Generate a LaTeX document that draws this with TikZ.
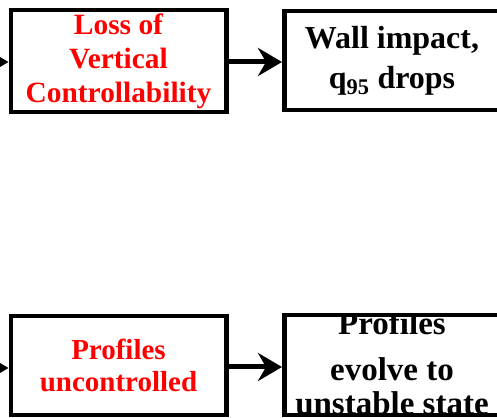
\documentclass[tikz,border=0pt]{standalone}
\usepackage{fontspec}
\setmainfont{Liberation Serif}
\usetikzlibrary{arrows.meta}
\begin{document}
\begin{tikzpicture}[x=1pt,y=1pt,
  stagebox/.style={draw=black, line width=4.5pt, rectangle, fill=white,
                   minimum width=215.5pt, inner sep=0pt},
  redtxt/.style={text=red, align=center,
                 font=\bfseries\fontsize{29.4}{34}\selectfont},
  blacktxt/.style={text=black, align=center,
                   font=\bfseries\fontsize{32}{40}\selectfont},
  linetxt/.style={text=black, anchor=base, inner sep=0pt,
                  font=\bfseries\fontsize{33}{40}\selectfont},
  flow/.style={line width=5pt, -{Stealth[length=24pt,width=28pt,inset=8pt]}}
]
\useasboundingbox (0,0) rectangle (497,417);

% upper chain
\node[stagebox, minimum height=102pt, redtxt] (lvc) at (118.5,356)
  {Loss of\\Vertical\\Controllability};
\node[stagebox, minimum height=99pt, blacktxt] (wall) at (392,356.5)
  {Wall impact,\\q\textsubscript{95} drops};

% lower chain
\node[stagebox, minimum height=99pt, redtxt,
      font=\bfseries\fontsize{29}{32}\selectfont] (unc) at (118.5,51.5)
  {Profiles\\uncontrolled};
\node[stagebox, minimum height=100pt] (evo) at (392,52) {};

% overflowing text of the last stage, kept inside its frame
\begin{scope}
  \clip ([shift={(4.5pt,4.5pt)}]evo.south west)
        rectangle ([shift={(-4.5pt,-4.5pt)}]evo.north east);
  \node[linetxt] (evo1) at (392,82) {Profiles};
  \node[linetxt] (evo2) at (392,36) {evolve to};
  \node[linetxt] (evo3) at (392,3) {unstable state};
\end{scope}

% connectors
\coordinate (inup) at (-12,355);
\coordinate (inlow) at (-12,49);
\draw[flow] (inup) -- (inup -| lvc.west);
\draw[flow] (inlow) -- (inlow -| unc.west);
\draw[flow] (lvc.east |- inup) -- (inup -| wall.west);
\draw[flow] (unc.east |- 0,50) -- (0,50 -| evo.west);
\end{tikzpicture}
\end{document}
